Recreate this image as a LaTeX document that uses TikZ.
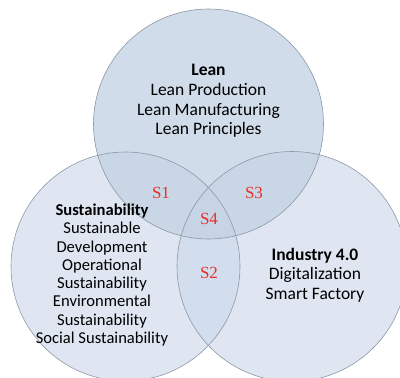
\documentclass[tikz,border=0pt]{standalone}
\usepackage{fontspec}
\setmainfont{Carlito}
\newfontfamily\zonefont{Liberation Serif}

\definecolor{leanfill}{RGB}{196,211,228}
\definecolor{lowfill}{RGB}{201,214,233}
\definecolor{ringline}{RGB}{140,152,166}
\definecolor{zonered}{RGB}{232,48,40}

\begin{document}
\begin{tikzpicture}[x=1pt, y=-1pt,
    topic/.style={align=center, inner sep=0pt, font=\fontsize{17.5}{19.7}\selectfont},
    zone/.style={text=zonered, inner sep=0pt, font=\zonefont\fontsize{17}{17}\selectfont}]
    \useasboundingbox (0,0) rectangle (400,378);

    % the three sets
    \fill[lowfill, fill opacity=0.6] (125.5,266.5) circle (114.5pt);
    \fill[lowfill, fill opacity=0.6] (292,266.5) circle (115pt);
    \fill[leanfill, fill opacity=0.8] (208.5,124) circle (115pt);
    \draw[ringline, line width=0.6pt] (125.5,266.5) circle (114.5pt);
    \draw[ringline, line width=0.6pt] (292,266.5) circle (115pt);
    \draw[ringline, line width=0.6pt] (208.5,124) circle (115pt);

    \node[topic] (lean) at (208.5,101) {\textbf{Lean}\\Lean Production\\Lean Manufacturing\\Lean Principles};
    \node[topic, font=\fontsize{16.6}{18.3}\selectfont] (sust) at (102,275)
        {\textbf{Sustainability}\\Sustainable\\Development\\Operational\\Sustainability\\Environmental\\Sustainability\\Social Sustainability};
    \node[topic] (ind) at (315,275) {\textbf{Industry 4.0}\\Digitalization\\Smart Factory};

    % overlaps
    \node[zone] (s1) at (161,193) {S1};
    \node[zone] (s3) at (254,193) {S3};
    \node[zone] (s4) at (209,219) {S4};
    \node[zone] (s2) at (209,273) {S2};
\end{tikzpicture}
\end{document}
